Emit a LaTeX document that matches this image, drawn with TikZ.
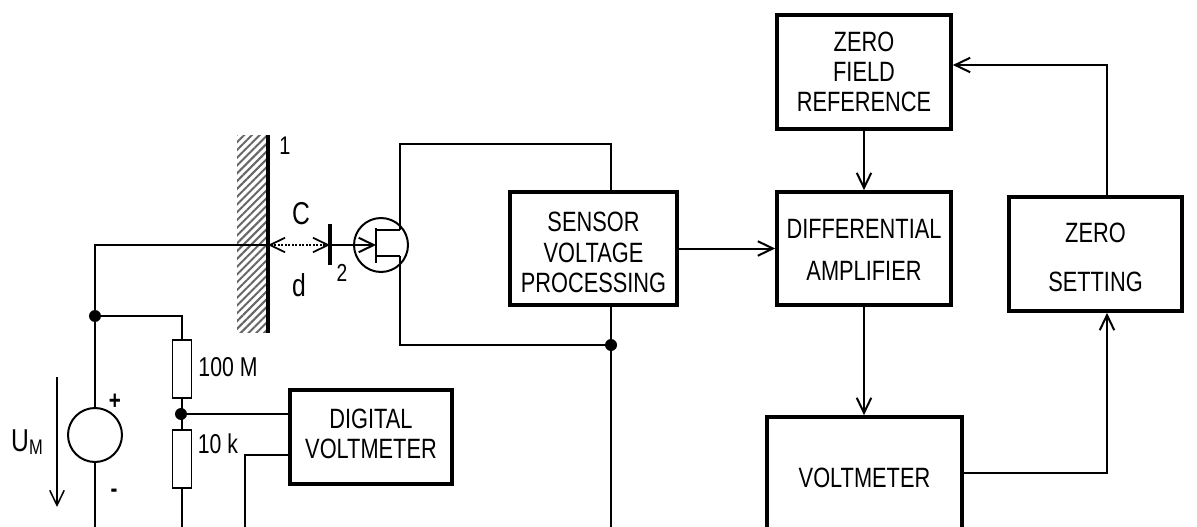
\documentclass[tikz,border=0pt]{standalone}
\usepackage{fontspec}
\setmainfont[FakeStretch=0.78]{Liberation Sans}
\usetikzlibrary{arrows.meta, patterns.meta}
\newcommand{\toppad}[1]{\rule{0pt}{#1}}
\newcommand{\botpad}[1]{\rule[-#1]{0pt}{#1}}

\begin{document}
\begin{tikzpicture}[x=0.02cm, y=-0.02cm, >={Straight Barb[length=3mm, width=2.9mm]},
			wire/.style={line width=0.04cm},
			block/.style={draw, line width=0.075cm, align=center, inner sep=0pt, font=\fontsize{15.9}{17.2}\selectfont},
			res/.style={draw, line width=0.035cm, minimum width=0.38cm, minimum height=1.16cm, inner sep=0pt},
			dot/.style={circle, fill, minimum size=0.24cm, inner sep=0pt},
			lab/.style={inner sep=0pt, font=\fontsize{15.5}{18}\selectfont},
			biglab/.style={inner sep=0pt, font=\fontsize{18}{20}\selectfont}]
			
			\useasboundingbox (0,0) rectangle (1197,527);
			
			% Blocchi
			\node[block, minimum width=3.48cm, minimum height=2.28cm] (zeroref) at (864,72) {ZERO\\FIELD\\REFERENCE};
			\node[block, minimum width=3.48cm, minimum height=2.26cm] (diff) at (864,248.5) {\toppad{0.45cm}DIFFERENTIAL\\[0.24cm]AMPLIFIER};
			\node[block, minimum width=3.34cm, minimum height=2.26cm] (sensor) at (593.5,248.5) {\toppad{0.55cm}SENSOR\\VOLTAGE\\PROCESSING};
			\node[block, minimum width=3.46cm, minimum height=2.28cm] (zeroset) at (1095.5,254) {\toppad{0.53cm}ZERO\\[0.39cm]SETTING};
			\node[block, minimum width=3.24cm, minimum height=1.88cm] (digital) at (371,437) {DIGITAL\\VOLTMETER\botpad{0.12cm}};
			\begin{scope}
				\clip (0,0) rectangle (1197,527);
				\node[block, minimum width=3.9cm, minimum height=2.44cm] (volt) at (864.5,478) {VOLTMETER};
			\end{scope}
			
			% Elettrodi
			\node[minimum width=0.6cm, minimum height=3.96cm, inner sep=0pt,
				pattern={Lines[angle=45, distance=0.11cm, line width=0.04cm]}, pattern color=black!60] (wall) at (252,234) {};
			\coordinate (p1top) at (268,135);
			\coordinate (p1bot) at (268,333);
			\coordinate (p1) at (268,245);
			\coordinate (p2top) at (330,224);
			\coordinate (p2bot) at (330,265);
			\coordinate (p2) at (330,245);
			\draw[line width=0.08cm] (p1top) -- (p1bot);
			\draw[line width=0.08cm] (p2top) -- (p2bot);
			\draw[<->, densely dotted, line width=0.035cm] (p1) -- (p2);
			
			% Transistor
			\node[circle, draw, line width=0.04cm, minimum size=1.08cm, inner sep=0pt] (fet) at (381,245) {};
			\coordinate (gate) at (376,245);
			\coordinate (gtop) at (376,228);
			\coordinate (gbot) at (376,263);
			\coordinate (dr) at (400,230);
			\coordinate (so) at (400,256);
			\coordinate (ftop) at (400,144);
			\draw[wire, ->] (p2) -- (gate);
			\draw[wire] (gtop) -- (gbot);
			\draw[wire] (gate |- dr) -- (dr);
			\draw[wire] (gate |- so) -- (so);
			
			% Partitore e generatore
			\node[circle, draw, line width=0.04cm, minimum size=1.08cm, inner sep=0pt] (src) at (95,435) {};
			\node[res] (r100) at (182,369) {};
			\node[res] (r10) at (182,459) {};
			\node[dot] (j1) at (95,316) {};
			\node[dot] (j2) at (181,414) {};
			\node[dot] (j3) at (611,345) {};
			\coordinate (in) at (95,245);
			\coordinate (b1) at (95,527);
			\coordinate (b2) at (182,527);
			\coordinate (b3) at (245,527);
			\coordinate (b4) at (611,527);
			\coordinate (dv) at (290,455);
			\coordinate (um1) at (57,377);
			\coordinate (um2) at (57,507);
			\coordinate (fb) at (1107,65);
			\coordinate (vo) at (962,473);
			
			% Collegamenti
			\draw[wire] (p1) -- (in) -- (j1) -- (src);
			\draw[wire] (src) -- (b1);
			\draw[wire] (j1) -| (r100.north);
			\draw[wire] (r100.south) -- (r10.north);
			\draw[wire] (r10.south) -- (b2);
			\draw[wire] (j2) -- (j2 -| digital.west);
			\draw[wire] (dv) -| (b3);
			\draw[wire] (so) |- (j3);
			\draw[wire] (dr) |- (ftop) -| (sensor.north -| j3);
			\draw[wire] (sensor.south -| j3) -- (b4);
			\draw[->, line width=0.03cm] (um1) -- (um2);
			
			% Da un blocco all'altro
			\draw[wire, ->] (sensor) -- (diff);
			\draw[wire, ->] (zeroref) -- (diff);
			\draw[wire, ->] (diff) -- (diff |- volt.north);
			\draw[wire, ->] (vo) -| (zeroset.south -| fb);
			\draw[wire, ->] (zeroset.north -| fb) |- (zeroref.east |- fb);
			
			% Etichette
			\node[lab, font=\fontsize{14.5}{15}\selectfont] (l1) at (285,146) {1};
			\node[lab, font=\fontsize{14}{15}\selectfont] (l2) at (342,273) {2};
			\node[biglab] (lc) at (301,214) {C};
			\node[biglab] (ld) at (299,285) {d};
			\node[lab] (l100) at (228,367) {100 M};
			\node[lab] (l10) at (218,444) {10 k};
			\node[biglab] (lu) at (27,442) {U\raisebox{-0.2ex}{\fontsize{12}{14}\selectfont M}};
			\node[lab, font=\bfseries\fontsize{15}{15}\selectfont] (lp) at (115,402) {+};
			\node[lab, font=\bfseries\fontsize{15}{15}\selectfont] (lm) at (114,493) {-};
			
		\end{tikzpicture}
\end{document}
